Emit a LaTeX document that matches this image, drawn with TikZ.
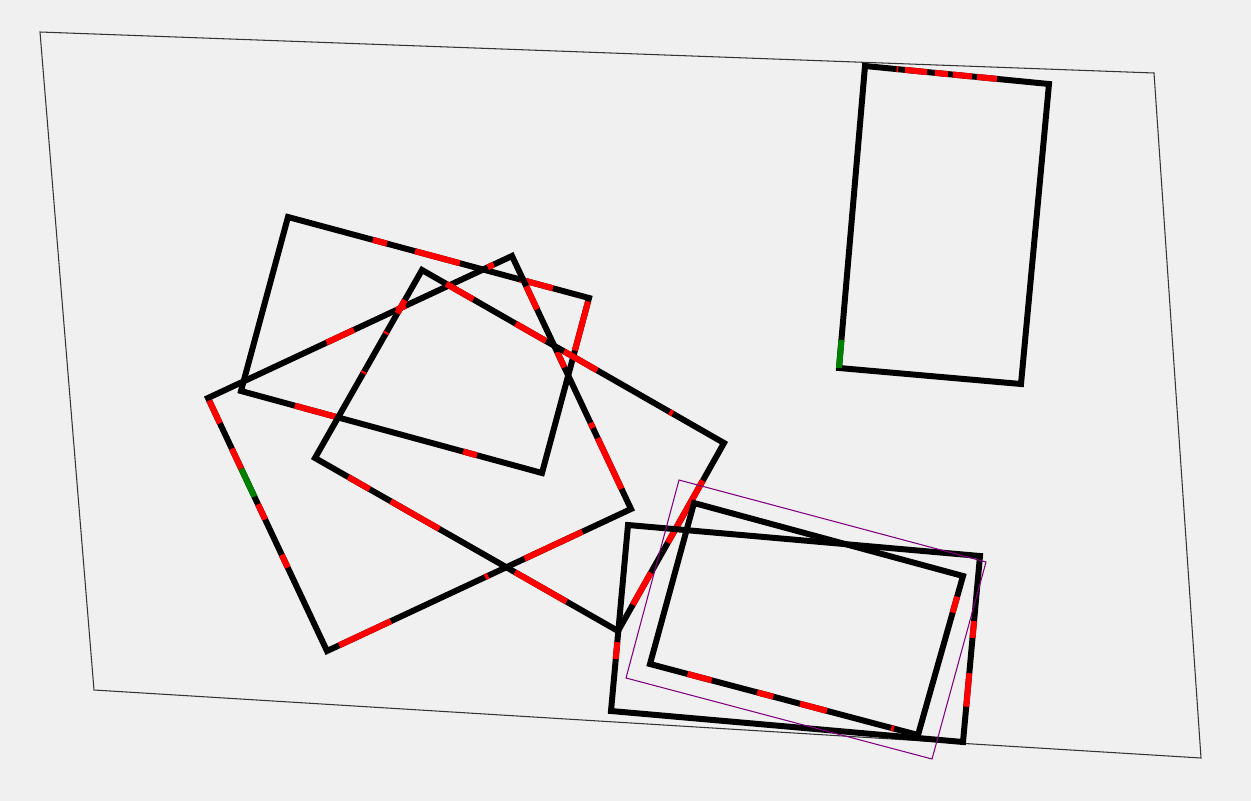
\documentclass[tikz,border=0pt]{standalone}
\usetikzlibrary{calc}

\definecolor{bgcol}{HTML}{F0F0F0}
\definecolor{framecol}{HTML}{333333}
\definecolor{markred}{HTML}{FF0000}
\definecolor{markgreen}{HTML}{008000}
\definecolor{boxpurple}{HTML}{800080}

\tikzset{
  frame/.style={draw=framecol, line width=0.6pt},
  plate/.style={draw=black, line width=3.4pt, line join=miter},
  redpiece/.style={draw=markred, line width=3.4pt},
  greenpiece/.style={draw=markgreen, line width=3.4pt},
  bound/.style={draw=boxpurple, line width=0.6pt}
}

% piece of the edge #2--#3 between fractions #4 and #5
\newcommand{\edgepiece}[5][redpiece]{\draw[#1] ($(#2)!#4!(#3)$) -- ($(#2)!#5!(#3)$);}

\begin{document}
\begin{tikzpicture}[x=0.02cm, y=-0.02cm]
  % Background
  \fill[bgcol] (0,0) rectangle (1251,801);

  % Outer frame
  \draw[frame] (40,32) -- (1154,73) -- (1201,758) -- (94,690) -- cycle;

  % Rectangle top right
  \coordinate (A1) at (865,66);
  \coordinate (B1) at (1049,84);
  \coordinate (C1) at (1021,384);
  \coordinate (D1) at (839,368);
  \draw[plate] (A1) -- (B1) -- (C1) -- (D1) -- cycle;
  \edgepiece{A1}{B1}{0.172}{0.180}
  \edgepiece{A1}{B1}{0.217}{0.337}
  \edgepiece{A1}{B1}{0.380}{0.451}
  \edgepiece{A1}{B1}{0.478}{0.582}
  \edgepiece{A1}{B1}{0.609}{0.717}
  \edgepiece[greenpiece]{D1}{A1}{0.0}{0.093}

  % Rectangle upper left
  \coordinate (A2) at (288,217);
  \coordinate (B2) at (589,298);
  \coordinate (C2) at (542,473);
  \coordinate (D2) at (241,391);
  \draw[plate] (A2) -- (B2) -- (C2) -- (D2) -- cycle;
  \edgepiece{A2}{B2}{0.282}{0.329}
  \edgepiece{A2}{B2}{0.422}{0.571}
  \edgepiece{A2}{B2}{0.771}{0.880}
  \edgepiece{B2}{C2}{0.02}{0.30}
  \edgepiece{D2}{C2}{0.179}{0.329}
  \edgepiece{D2}{C2}{0.738}{0.784}

  % Rectangle left (tilted)
  \coordinate (A3) at (512,256);
  \coordinate (B3) at (631,509);
  \coordinate (C3) at (327,651);
  \coordinate (D3) at (208,398);
  \draw[plate] (A3) -- (B3) -- (C3) -- (D3) -- cycle;
  \edgepiece{A3}{B3}{0.12}{0.21}
  \edgepiece{A3}{B3}{0.38}{0.44}
  \edgepiece{A3}{B3}{0.66}{0.68}
  \edgepiece{A3}{B3}{0.72}{0.92}
  \edgepiece{D3}{A3}{0.39}{0.48}
  \edgepiece{D3}{A3}{0.62}{0.65}
  \edgepiece{D3}{A3}{0.92}{0.94}
  \edgepiece{D3}{C3}{0.01}{0.10}
  \edgepiece{D3}{C3}{0.20}{0.28}
  \edgepiece[greenpiece]{D3}{C3}{0.28}{0.39}
  \edgepiece{D3}{C3}{0.42}{0.48}
  \edgepiece{D3}{C3}{0.62}{0.67}
  \edgepiece{C3}{B3}{0.04}{0.21}
  \edgepiece{C3}{B3}{0.52}{0.53}
  \edgepiece{C3}{B3}{0.65}{0.84}

  % Rectangle middle
  \coordinate (A4) at (422,270);
  \coordinate (B4) at (724,443);
  \coordinate (C4) at (618,631);
  \coordinate (D4) at (315,458);
  \draw[plate] (A4) -- (B4) -- (C4) -- (D4) -- cycle;
  \edgepiece{A4}{B4}{0.08}{0.17}
  \edgepiece{A4}{B4}{0.31}{0.41}
  \edgepiece{A4}{B4}{0.47}{0.58}
  \edgepiece{A4}{B4}{0.82}{0.83}
  \edgepiece{D4}{A4}{0.45}{0.46}
  \edgepiece{D4}{A4}{0.66}{0.67}
  \edgepiece{D4}{A4}{0.77}{0.84}
  \edgepiece{D4}{C4}{0.11}{0.18}
  \edgepiece{D4}{C4}{0.25}{0.41}
  \edgepiece{D4}{C4}{0.66}{0.83}
  \edgepiece{B4}{C4}{0.20}{0.53}
  \edgepiece{B4}{C4}{0.69}{0.86}

  % Rectangle bottom right (outer)
  \coordinate (A5) at (628,525);
  \coordinate (B5) at (980,556);
  \coordinate (C5) at (963,742);
  \coordinate (D5) at (611,711);
  \draw[plate] (A5) -- (B5) -- (C5) -- (D5) -- cycle;
  \edgepiece{A5}{D5}{0.63}{0.72}
  \edgepiece{B5}{C5}{0.35}{0.44}
  \edgepiece{B5}{C5}{0.63}{0.81}

  % Rectangle bottom right (inner)
  \coordinate (A6) at (694,503);
  \coordinate (B6) at (963,576);
  \coordinate (C6) at (918,735);
  \coordinate (D6) at (650,664);
  \draw[plate] (A6) -- (B6) -- (C6) -- (D6) -- cycle;
  \edgepiece{B6}{C6}{0.13}{0.23}
  \edgepiece{D6}{C6}{0.14}{0.23}
  \edgepiece{D6}{C6}{0.40}{0.46}
  \edgepiece{D6}{C6}{0.56}{0.66}
  \edgepiece{D6}{C6}{0.90}{0.91}

  % Bounding box (purple)
  \draw[bound] (679,480) -- (986,562) -- (932,759) -- (626,678) -- cycle;
\end{tikzpicture}
\end{document}
